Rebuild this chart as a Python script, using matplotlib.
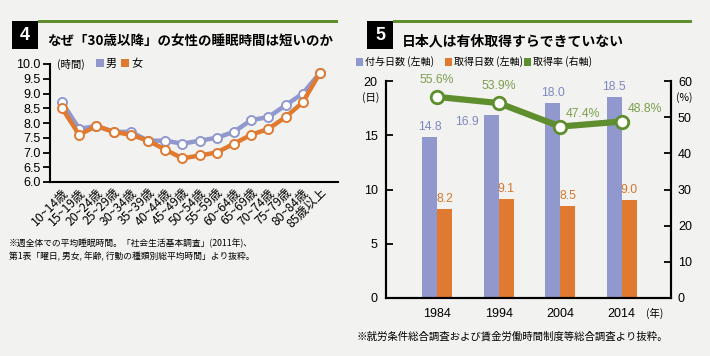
import matplotlib
matplotlib.use("Agg")
import matplotlib.pyplot as plt
from matplotlib.patches import Rectangle
import matplotlib.transforms as mtransforms
import numpy as np

plt.rcParams['font.family'] = ['Noto Sans CJK JP', 'DejaVu Sans']
NUM = ['Liberation Sans', 'DejaVu Sans']

# ---- data: chart 4 ----
age_groups = ["10~14歳", "15~19歳", "20~24歳", "25~29歳", "30~34歳", "35~39歳",
              "40~44歳", "45~49歳", "50~54歳", "55~59歳", "60~64歳", "65~69歳",
              "70~74歳", "75~79歳", "80~84歳", "85歳以上"]
male_sleep = [8.7, 7.8, 7.9, 7.7, 7.7, 7.4, 7.4, 7.3, 7.4, 7.5, 7.7, 8.1, 8.2, 8.6, 9.0, 9.7]
female_sleep = [8.5, 7.6, 7.9, 7.7, 7.6, 7.4, 7.1, 6.8, 6.9, 7.0, 7.3, 7.6, 7.8, 8.2, 8.7, 9.7]
sleep_yticks = [6.0, 6.5, 7.0, 7.5, 8.0, 8.5, 9.0, 9.5, 10.0]

# ---- data: chart 5 ----
years = ["1984", "1994", "2004", "2014"]
granted_days = [14.8, 16.9, 18.0, 18.5]
taken_days = [8.2, 9.1, 8.5, 9.0]
take_rate = [55.6, 53.9, 47.4, 48.8]
days_yticks = [0, 5, 10, 15, 20]
rate_yticks = [0, 10, 20, 30, 40, 50, 60]

BLUE = "#9098CE"
ORANGE = "#E07A30"
GREEN = "#5E8E2E"
BLUE_T = "#7F88C0"
ORANGE_T = "#D4772C"
GREEN_T = "#7C9E4E"
BG = "#F2F2F0"

W, H = 710, 356
fig = plt.figure(figsize=(7.1, 3.56), dpi=100, facecolor=BG)

def fx(px):
    return px / W

def fy(py):
    return 1 - py / H

def rect(x0, y0, x1, y1, color):
    fig.patches.append(Rectangle((fx(x0), fy(y1)), fx(x1 - x0), (y1 - y0) / H,
                                 transform=fig.transFigure, color=color, lw=0))

# ---- banners ----
rect(12, 21, 38, 49, "black")
rect(38, 20, 338, 23, GREEN)
fig.text(fx(25), fy(36), "4", color="white", fontsize=13, fontweight="bold",
         ha="center", va="center", family=NUM)
fig.text(fx(47), fy(41), "なぜ「30歳以降」の女性の睡眠時間は短いのか", fontsize=9.7,
         fontweight="bold", ha="left", va="center")

rect(367, 21, 393, 49, "black")
rect(393, 20, 692, 23, GREEN)
fig.text(fx(380), fy(36), "5", color="white", fontsize=13, fontweight="bold",
         ha="center", va="center", family=NUM)
fig.text(fx(402), fy(41), "日本人は有休取得すらできていない", fontsize=10,
         fontweight="bold", ha="left", va="center")

# ---- chart 4 ----
ax1 = fig.add_axes([fx(50), fy(182), fx(288), 118 / H])
ax1.set_facecolor("none")
x = np.arange(len(age_groups))
ax1.plot(x, male_sleep, color=BLUE, lw=3.2, marker="o", ms=6.5, mfc="white",
         mec=BLUE, mew=1.4, zorder=3)
ax1.plot(x, female_sleep, color=ORANGE, lw=3.2, marker="o", ms=6.5, mfc="white",
         mec=ORANGE, mew=1.4, zorder=4)
ax1.set_ylim(6.0, 10.0)
ax1.set_xlim(-0.7, 16.05)
ax1.set_yticks(sleep_yticks)
ax1.set_yticklabels([f"{v:.1f}" for v in sleep_yticks], fontsize=9, family=NUM)
ax1.set_xticks(x)
ax1.set_xticklabels(age_groups, rotation=45, ha="right", rotation_mode="anchor",
                    fontsize=8.8)
offset = mtransforms.ScaledTranslation(5 / 100, 0, fig.dpi_scale_trans)
for lab in ax1.get_xticklabels():
    lab.set_transform(lab.get_transform() + offset)
ax1.tick_params(axis="x", length=0, pad=3)
ax1.tick_params(axis="y", length=5, width=1.3, direction="out", pad=2)
for s in ["top", "right"]:
    ax1.spines[s].set_visible(False)
for s in ["left", "bottom"]:
    ax1.spines[s].set_linewidth(1.5)

fig.text(fx(57), fy(64), "(時間)", fontsize=7.5, ha="left", va="center")
rect(96, 59, 104, 67, BLUE)
fig.text(fx(106), fy(64), "男", fontsize=8, ha="left", va="center")
rect(121, 59, 129, 67, ORANGE)
fig.text(fx(131), fy(64), "女", fontsize=8, ha="left", va="center")

fig.text(fx(9), fy(243), "※週全体での平均睡眠時間。「社会生活基本調査」(2011年)、",
         fontsize=6.3, ha="left", va="center")
fig.text(fx(9), fy(257), "第1表「曜日, 男女, 年齢, 行動の種類別総平均時間」より抜粋。",
         fontsize=6.3, ha="left", va="center")

# ---- chart 5 ----
ax2 = fig.add_axes([fx(386), fy(298), fx(285), 217 / H])
ax2.set_facecolor("none")
xi = np.arange(len(years))
bw = 0.245
ax2.bar(xi - bw / 2, granted_days, width=bw, color=BLUE, zorder=2)
ax2.bar(xi + bw / 2, taken_days, width=bw, color=ORANGE, zorder=2)
granted_label_pos = [(0, 3, "center", "bottom"), (-9, -1, "right", "top"),
                     (0, 3, "center", "bottom"), (0, 3, "center", "bottom")]
for xx, v, (dx, dy, ha, va) in zip(xi - bw / 2, granted_days, granted_label_pos):
    ax2.annotate(f"{v:.1f}", (xx, v), xytext=(dx, dy), textcoords="offset points",
                 ha=ha, va=va, fontsize=8.8, color=BLUE_T, family=NUM)
for xx, v in zip(xi + bw / 2, taken_days):
    ax2.annotate(f"{v:.1f}", (xx, v), xytext=(0, 3), textcoords="offset points",
                 ha="center", va="bottom", fontsize=8.8, color=ORANGE_T, family=NUM)
ax2.set_ylim(0, 20)
ax2.set_xlim(-0.83, 3.8)
ax2.set_yticks(days_yticks)
ax2.set_yticklabels([str(v) for v in days_yticks], fontsize=9, family=NUM)
ax2.set_xticks(xi)
ax2.set_xticklabels(years, fontsize=9, family=NUM)
ax2.tick_params(axis="x", length=0, pad=7)
ax2.tick_params(axis="y", length=5, width=1.3, direction="in", pad=6)
ax2.spines["top"].set_visible(False)
for s in ["left", "right", "bottom"]:
    ax2.spines[s].set_linewidth(1.5)

ax3 = ax2.twinx()
ax3.plot(xi, take_rate, color=GREEN, lw=4.5, marker="o", ms=9, mfc="white",
         mec=GREEN, mew=2, zorder=5)
ax3.set_ylim(0, 60)
ax3.set_yticks(rate_yticks)
ax3.set_yticklabels([str(v) for v in rate_yticks], fontsize=9, family=NUM)
ax3.tick_params(axis="y", length=5, width=1.3, direction="in", pad=5)
ax3.spines["top"].set_visible(False)
for s in ["left", "right", "bottom"]:
    ax3.spines[s].set_linewidth(1.5)
rate_offsets = [(0, 8, "center"), (0, 8, "center"), (4, 5, "left"), (4, 5, "left")]
for xx, v, (dx, dy, ha) in zip(xi, take_rate, rate_offsets):
    ax3.annotate(f"{v:.1f}%", (xx, v), xytext=(dx, dy), textcoords="offset points",
                 ha=ha, va="bottom", fontsize=8.8, color=GREEN_T, family=NUM)

fig.text(fx(371), fy(98), "(日)", fontsize=7.5, ha="center", va="center")
fig.text(fx(684), fy(98), "(%)", fontsize=7.5, ha="center", va="center")
fig.text(fx(646), fy(313), "(年)", fontsize=7.5, ha="left", va="center")

rect(356, 58, 363, 66, BLUE)
fig.text(fx(365), fy(62), "付与日数 (左軸)", fontsize=7.2, ha="left", va="center")
rect(445, 58, 452, 66, ORANGE)
fig.text(fx(454), fy(62), "取得日数 (左軸)", fontsize=7.2, ha="left", va="center")
rect(524, 58, 531, 66, GREEN)
fig.text(fx(533), fy(62), "取得率 (右軸)", fontsize=7.2, ha="left", va="center")

fig.text(fx(357), fy(336), "※就労条件総合調査および賃金労働時間制度等総合調査より抜粋。",
         fontsize=7.5, ha="left", va="center")

fig.savefig("out.png", dpi=100, facecolor=BG)
